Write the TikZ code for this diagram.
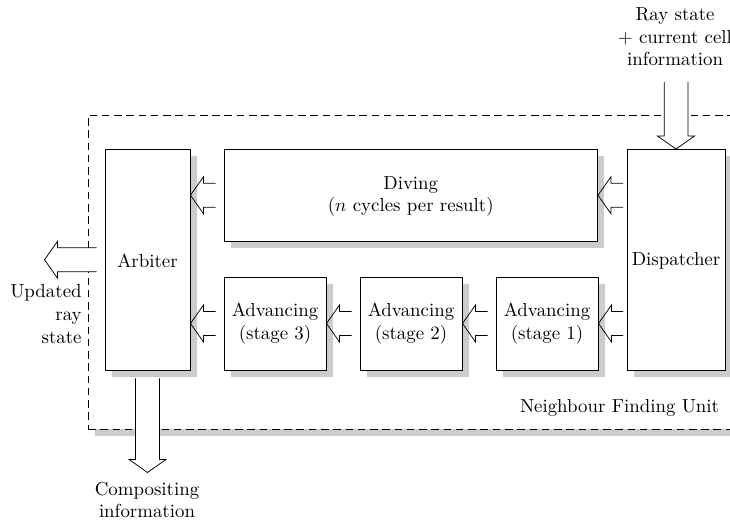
\documentclass[tikz,border=0pt]{standalone}
\usetikzlibrary{shadows,calc,fit}
\pgfdeclarelayer{bgzero}
\pgfdeclarelayer{bgone}
\pgfsetlayers{bgzero,bgone,main}
\begin{document}
\begin{tikzpicture}[x=0.53pt,y=-0.53pt, line width=0.5pt,
  box/.style={draw, fill=white, inner sep=0pt,
    drop shadow={shadow xshift=3.7pt, shadow yshift=-3.7pt, fill=black, opacity=0.2}},
  nfubox/.style={draw, fill=white, inner sep=0pt, dash pattern=on 4pt off 2.5pt,
    drop shadow={shadow xshift=3.7pt, shadow yshift=-3.7pt, fill=black!20, opacity=1}},
  fatleft/.style={fill=white, to path={let \p1=(\tikztostart), \p2=(\tikztotarget) in
    (\x1,\y2+6.3pt) -- (\x2+6.9pt,\y2+6.3pt) -- (\x2+6.9pt,\y2+9.8pt) -- (\x2,\y2)
    -- (\x2+6.9pt,\y2-9.8pt) -- (\x2+6.9pt,\y2-6.3pt) -- (\x1,\y2-6.3pt)}},
  fatdown/.style={fill=white, to path={let \p1=(\tikztostart), \p2=(\tikztotarget) in
    (\x2-6.3pt,\y1) -- (\x2-6.3pt,\y2+6.9pt) -- (\x2-9.8pt,\y2+6.9pt) -- (\x2,\y2)
    -- (\x2+9.8pt,\y2+6.9pt) -- (\x2+6.3pt,\y2+6.9pt) -- (\x2+6.3pt,\y1)}},
  lbl/.style={align=center, inner sep=0pt}
]
\useasboundingbox (0,0) rectangle (730,519);

% boxes
\node[box, fit={(105,149.5) (190,370)}] (arb) {};
\node[box, fit={(224,149.5) (597.5,241)}] (diving) {};
\node[box, fit={(627,149.5) (725,370)}] (disp) {};
\node[box, fit={(224,277) (326,370)}] (s3) {};
\node[box, fit={(360,277) (462,370)}] (s2) {};
\node[box, fit={(496,277) (598,370)}] (s1) {};

\node[lbl] (arbt) at ($(arb.center)+(0,1)$) {Arbiter};
\node[lbl] (divt) at ($(diving.center)+(0,1)$) {Diving\\($n$ cycles per result)};
\node[lbl] (dispt) at ($(disp.center)+(0,1)$) {Dispatcher};
\node[lbl] (s3t) at ($(s3.center)+(0,0)$) {Advancing\\(stage 3)};
\node[lbl] (s2t) at ($(s2.center)+(0,0)$) {Advancing\\(stage 2)};
\node[lbl] (s1t) at ($(s1.center)+(0,0)$) {Advancing\\(stage 1)};

\begin{pgfonlayer}{bgzero}
\node[nfubox, fit={(88,115) (745,429)}] (nfu) {};
\end{pgfonlayer}

% labels
\node[lbl] (rs) at (675,37) {Ray state\\+ current cell\\information};
\node[lbl, align=right, anchor=east] (urs) at (82,314) {Updated\\ray\\state};
\node[lbl] (ci) at (147,500) {Compositing\\information};
\node[lbl] (nfulbl) at (619.5,408) {Neighbour Finding Unit};

\coordinate (intail) at (676,82);
\coordinate (outtip) at ($(arb.west)+(-60,0)$);
\coordinate (comptip) at ($(arb.south)+(0,102)$);

\begin{pgfonlayer}{bgone}
\draw[fatdown] (intail) to (disp.north);
\draw[fatleft] ($(diving.east -| disp.west)+(-3.5,0)$) to (diving.east);
\draw[fatleft] ($(s1.east -| disp.west)+(-3.5,0)$) to (s1.east);
\draw[fatleft] ($(s1.west)+(-8,0)$) to (s2.east);
\draw[fatleft] ($(s2.west)+(-8,0)$) to (s3.east);
\draw[fatleft] ($(diving.west)+(-8,0)$) to (diving.west -| arb.east);
\draw[fatleft] ($(s3.west)+(-8,0)$) to (s3.west -| arb.east);
\draw[fatleft] ($(arb.west)+(-8,0)$) to (outtip);
\draw[fatdown] ($(arb.south)+(0,8)$) to (comptip);
\end{pgfonlayer}
\end{tikzpicture}
\end{document}
